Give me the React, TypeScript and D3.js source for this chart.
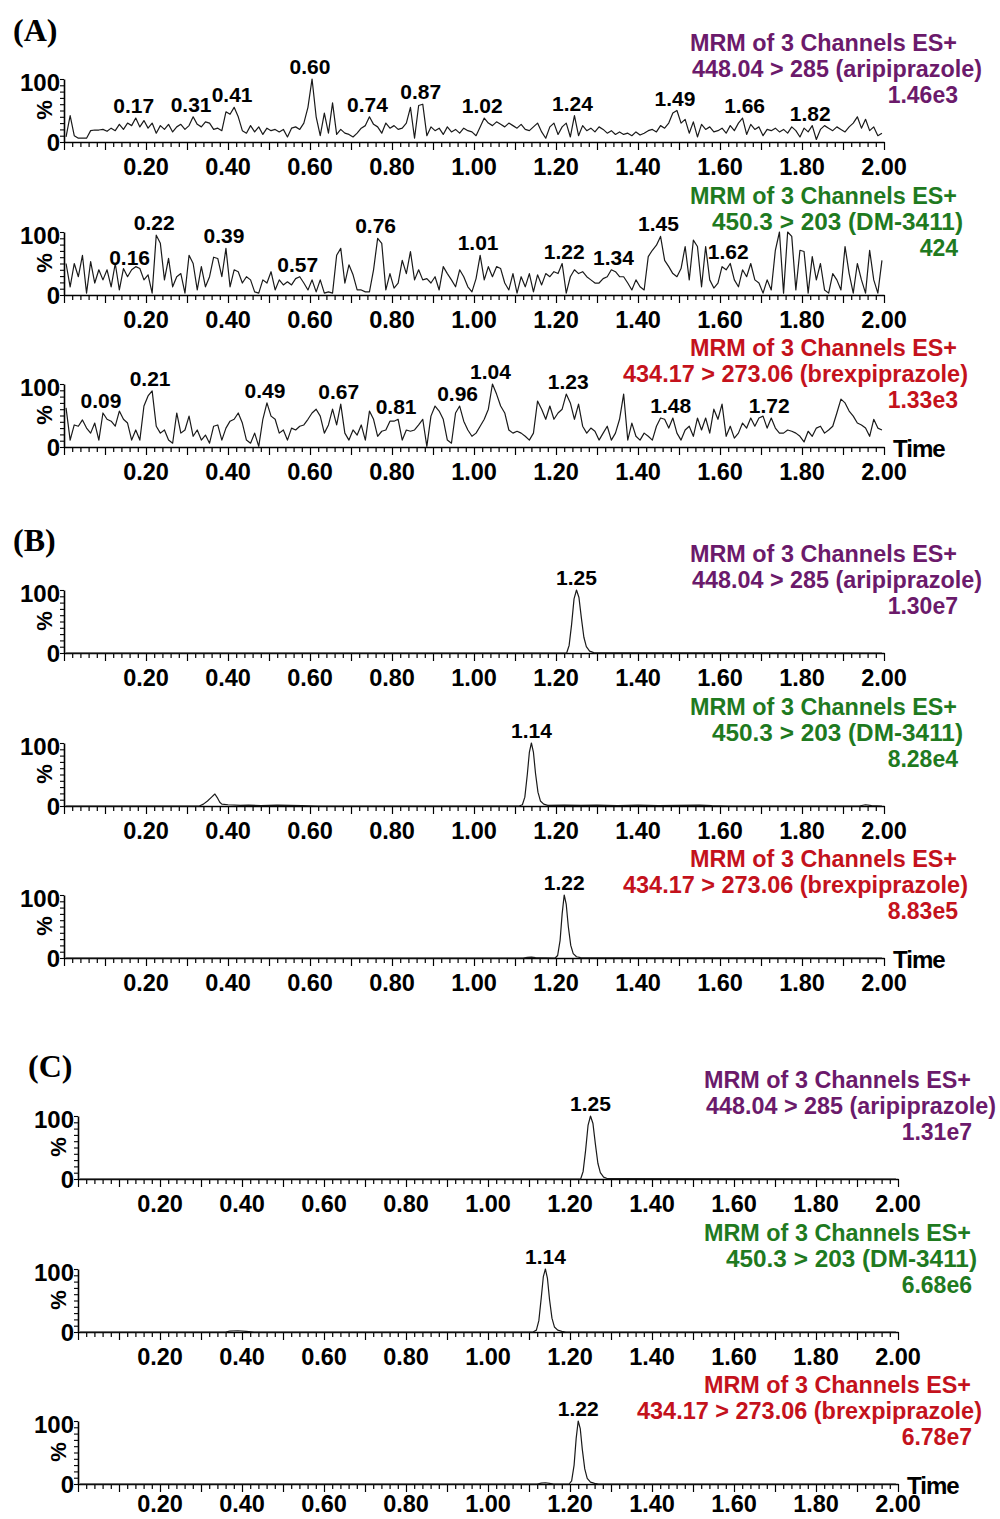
import React, { useEffect, useRef } from "react";
import * as d3 from "d3";

// ---- data ----
const legendTitle = "MRM of 3 Channels ES+";
const transitions = [
  "448.04 > 285 (aripiprazole)",
  "450.3 > 203 (DM-3411)",
  "434.17 > 273.06 (brexpiprazole)",
];
const channelColors = ["#6b1a6b", "#1f7a1f", "#c4121c"];
const panelLetters = ["(A)", "(B)", "(C)"];
const intensities = [
  ["1.46e3", "424", "1.33e3"],
  ["1.30e7", "8.28e4", "8.83e5"],
  ["1.31e7", "6.68e6", "6.78e7"],
];
const xTickLabels = [0.2, 0.4, 0.6, 0.8, 1.0, 1.2, 1.4, 1.6, 1.8, 2.0];

// panel A: noise traces, % values every 0.01 min starting at 0.005
const blankAripiprazole = [
  8, 42, 10, 6, 6, 6, 18, 19, 19, 20,
  17, 22, 18, 28, 20, 30, 26, 38, 24, 34,
  22, 30, 14, 26, 20, 28, 16, 24, 28, 20,
  26, 40, 28, 24, 32, 30, 20, 22, 18, 48,
  44, 55, 40, 18, 14, 26, 16, 24, 12, 22,
  18, 20, 16, 20, 8, 22, 24, 20, 30, 55,
  100, 40, 10, 46, 14, 62, 12, 20, 14, 12,
  8, 14, 22, 26, 40, 28, 24, 14, 30, 22,
  26, 20, 22, 30, 55, 6, 58, 60, 10, 24,
  18, 22, 12, 24, 16, 20, 14, 22, 18, 16,
  10, 24, 38, 30, 26, 32, 28, 24, 30, 26,
  22, 28, 20, 18, 24, 30, 16, 6, 24, 30,
  12, 24, 30, 8, 42, 10, 26, 18, 22, 16,
  24, 20, 14, 18, 12, 16, 12, 14, 10, 16,
  11, 14, 18, 20, 16, 26, 22, 30, 46, 50,
  30, 36, 14, 32, 8, 28, 20, 24, 16, 18,
  22, 14, 26, 18, 30, 38, 12, 28, 20, 24,
  10, 20, 18, 22, 16, 20, 14, 24, 18, 8,
  22, 16, 26, 4, 20, 26, 22, 18, 24, 20,
  16, 24, 30, 40, 22, 36, 18, 24, 10, 14,
];
const blankDM3411 = [
  50, 13, 50, 29, 63, 3, 53, 19, 40, 24,
  40, 13, 50, 8, 42, 29, 40, 45, 42, 24,
  32, 3, 95, 82, 24, 58, 13, 29, 34, 3,
  63, 50, 8, 45, 13, 29, 60, 58, 29, 74,
  13, 40, 37, 19, 29, 24, 5, 3, 24, 19,
  37, 8, 24, 16, 21, 16, 26, 29, 19, 8,
  24, 5, 24, 3, 5, 3, 63, 74, 19, 48,
  32, 8, 8, 5, 5, 40, 90, 82, 8, 34,
  11, 19, 55, 34, 69, 24, 40, 24, 26, 19,
  29, 8, 45, 34, 24, 13, 40, 29, 13, 5,
  26, 63, 24, 45, 29, 45, 42, 19, 8, 34,
  3, 29, 13, 34, 5, 32, 16, 34, 29, 37,
  34, 50, 3, 29, 40, 34, 37, 29, 24, 19,
  19, 26, 29, 40, 37, 29, 29, 19, 8, 24,
  13, 8, 61, 71, 79, 93, 55, 45, 34, 29,
  42, 77, 24, 87, 77, 13, 77, 24, 11, 19,
  45, 40, 50, 24, 13, 40, 29, 50, 24, 19,
  3, 24, 8, 71, 100, 3, 100, 93, 8, 71,
  69, 3, 61, 24, 50, 8, 3, 34, 24, 8,
  77, 34, 3, 50, 24, 3, 71, 24, 3, 55,
];
const blankBrexpiprazole = [
  62, 11, 35, 33, 43, 30, 22, 38, 11, 54,
  44, 41, 33, 57, 44, 38, 11, 27, 11, 65,
  81, 89, 33, 22, 27, 11, 6, 54, 22, 27,
  49, 17, 27, 11, 19, 6, 33, 35, 11, 30,
  41, 44, 54, 38, 11, 6, 22, 1, 44, 70,
  49, 44, 22, 27, 11, 30, 27, 33, 35, 44,
  54, 60, 49, 22, 35, 60, 35, 68, 22, 11,
  27, 19, 35, 11, 57, 44, 17, 25, 27, 41,
  41, 44, 11, 27, 25, 27, 35, 44, 1, 49,
  65, 57, 44, 11, 6, 54, 65, 41, 27, 17,
  22, 33, 44, 60, 100, 84, 65, 54, 27, 22,
  25, 22, 17, 11, 22, 73, 60, 44, 65, 44,
  54, 60, 84, 70, 44, 68, 33, 22, 30, 25,
  11, 22, 33, 11, 22, 44, 84, 11, 38, 17,
  11, 22, 17, 11, 33, 46, 44, 30, 46, 22,
  11, 27, 33, 17, 46, 27, 46, 22, 60, 44,
  68, 17, 33, 14, 22, 38, 30, 46, 33, 46,
  49, 30, 46, 30, 22, 22, 27, 25, 22, 17,
  8, 25, 17, 30, 33, 22, 27, 33, 54, 76,
  70, 57, 49, 38, 35, 30, 17, 44, 30, 27,
];

// panels B and C: [time, %] points
const stdAripiprazole = [
  [0.005, 0], [1.226, 0], [1.232, 12], [1.238, 45], [1.244, 86], [1.25, 100],
  [1.256, 88], [1.262, 55], [1.268, 25], [1.274, 10], [1.282, 3], [1.292, 0.5], [1.995, 0],
];
const stdDM3411 = [
  [0.005, 0], [0.33, 0], [0.34, 3], [0.35, 8], [0.36, 14], [0.368, 19], [0.375, 12],
  [0.38, 6], [0.385, 3], [0.4, 2], [0.43, 1], [0.45, 1.5], [0.48, 0.5], [0.52, 1.5],
  [0.55, 1], [0.58, 0.5], [0.62, 0], [1.11, 0], [1.118, 2], [1.124, 14], [1.13, 50],
  [1.135, 85], [1.14, 100], [1.145, 85], [1.15, 52], [1.156, 22], [1.162, 8], [1.17, 3],
  [1.18, 1], [1.22, 1.5], [1.26, 1], [1.3, 1.5], [1.35, 0.5], [1.4, 1.5], [1.45, 0.5],
  [1.5, 1], [1.55, 1.5], [1.58, 0.5], [1.62, 0], [1.94, 0], [1.955, 2], [1.97, 0.5], [1.995, 0],
];
const stdBrexpiprazole = [
  [0.005, 0], [1.12, 0], [1.13, 1], [1.14, 1.5], [1.15, 0.5], [1.198, 0], [1.204, 4],
  [1.21, 28], [1.215, 70], [1.22, 100], [1.225, 85], [1.23, 50], [1.236, 20],
  [1.242, 7], [1.25, 2], [1.26, 0.5], [1.995, 0],
];
const smpAripiprazole = [
  [0.005, 0], [1.226, 0], [1.232, 12], [1.238, 45], [1.244, 85], [1.25, 100],
  [1.256, 88], [1.262, 55], [1.268, 25], [1.274, 10], [1.282, 3], [1.292, 0.5], [1.995, 0],
];
const smpDM3411 = [
  [0.005, 0], [0.36, 0], [0.37, 1.5], [0.39, 2], [0.41, 1], [0.43, 0], [1.11, 0],
  [1.118, 3], [1.124, 18], [1.13, 55], [1.135, 88], [1.14, 100], [1.145, 85],
  [1.15, 52], [1.156, 22], [1.162, 8], [1.17, 3], [1.18, 1], [1.19, 0], [1.995, 0],
];
const smpBrexpiprazole = [
  [0.005, 0], [1.12, 0], [1.13, 1.5], [1.14, 2], [1.15, 1], [1.16, 0], [1.198, 0],
  [1.204, 5], [1.21, 30], [1.215, 72], [1.22, 100], [1.225, 88], [1.23, 55],
  [1.236, 24], [1.242, 9], [1.25, 3], [1.26, 1], [1.27, 0], [1.995, 0],
];

// peak labels (retention times)
const peakLabels = [
  [
    [0.17, 0.31, 0.41, 0.6, 0.74, 0.87, 1.02, 1.24, 1.49, 1.66, 1.82],
    [0.16, 0.22, 0.39, 0.57, 0.76, 1.01, 1.22, 1.34, 1.45, 1.62],
    [0.09, 0.21, 0.49, 0.67, 0.81, 0.96, 1.04, 1.23, 1.48, 1.72],
  ],
  [[1.25], [1.14], [1.22]],
  [[1.25], [1.14], [1.22]],
];

const toPoints = (vals: number[]) => vals.map((v, i) => [0.005 + i * 0.01, v]);
const traces = [
  [toPoints(blankAripiprazole), toPoints(blankDM3411), toPoints(blankBrexpiprazole)],
  [stdAripiprazole, stdDM3411, stdBrexpiprazole],
  [smpAripiprazole, smpDM3411, smpBrexpiprazole],
];

// ---- layout ----
const panelX = [[64, 884], [64, 884], [78, 898]];
const rowBase = [[142, 295, 447], [653, 806, 958], [1179, 1332, 1484]];
const letterPos = [[13, 41], [13, 551], [28, 1077]];
const line2Start = [692, 712, 623];
const line2Width = [290, 251, 345];
const plotH = 63;

export default function App() {
  const ref = useRef<SVGSVGElement>(null);

  useEffect(() => {
    const svg = d3.select(ref.current);
    svg.selectAll("*").remove();
    const sans = "'Liberation Sans', Arial, sans-serif";

    panelLetters.forEach((letter, p) => {
      svg.append("text")
        .attr("x", letterPos[p][0]).attr("y", letterPos[p][1])
        .attr("font-family", "'Liberation Serif', 'Times New Roman', serif")
        .attr("font-weight", "bold").attr("font-size", 32)
        .text(letter);

      const dx = panelX[p][0] - 64;
      const x = d3.scaleLinear().domain([0, 2]).range(panelX[p]);

      for (let r = 0; r < 3; r++) {
        const base = rowBase[p][r];
        const y = d3.scaleLinear().domain([0, 100]).range([base, base - plotH]);
        const g = svg.append("g");

        // x axis
        const xAxis = d3.axisBottom(x)
          .tickValues(d3.range(0, 101).map((i) => i * 0.02))
          .tickSizeInner(0).tickSizeOuter(0).tickFormat(() => "");
        g.append("g").attr("transform", `translate(0,${base})`).call(xAxis)
          .call((s) => s.select(".domain").attr("stroke-width", 1.6))
          .call((s) => s.selectAll(".tick line")
            .attr("y2", (d: any) => (Math.round(d * 50) % 5 === 0 ? 8 : 5))
            .attr("stroke-width", 1.2));
        g.selectAll(".xlab").data(xTickLabels).join("text")
          .attr("x", (d) => x(d)).attr("y", Math.min(base + 33, 1512))
          .attr("text-anchor", "middle").attr("font-family", sans)
          .attr("font-weight", "bold").attr("font-size", 23.5)
          .text((d) => d.toFixed(2));

        // y axis
        const yAxis = d3.axisLeft(y).tickValues(d3.range(0, 101, 10))
          .tickSizeInner(4).tickSizeOuter(0).tickFormat(() => "");
        g.append("g").attr("transform", `translate(${x(0)},0)`).call(yAxis)
          .call((s) => s.select(".domain").attr("stroke-width", 1.6))
          .call((s) => s.selectAll(".tick line").attr("stroke-width", 1.1));
        g.append("text").attr("x", x(0) - 4).attr("y", y(100) + 11.5)
          .attr("text-anchor", "end").attr("font-family", sans)
          .attr("font-weight", "bold").attr("font-size", 24).text("100");
        g.append("text").attr("x", x(0) - 4).attr("y", y(0) + 8.5)
          .attr("text-anchor", "end").attr("font-family", sans)
          .attr("font-weight", "bold").attr("font-size", 24).text("0");
        g.append("text")
          .attr("transform", `translate(${x(0) - 12},${base - 32}) rotate(-90)`)
          .attr("text-anchor", "middle").attr("font-family", sans)
          .attr("font-weight", "bold").attr("font-size", 22).text("%");

        // trace
        const pts = traces[p][r];
        const line = d3.line<number[]>().x((d) => x(d[0])).y((d) => y(d[1]));
        g.append("path").datum(pts).attr("d", line)
          .attr("fill", "none").attr("stroke", "#1a1a1a").attr("stroke-width", 1.2)
          .attr("stroke-linejoin", "round");

        // peak labels
        g.selectAll(".pk").data(peakLabels[p][r]).join("text")
          .attr("x", (t) => x(t))
          .attr("y", (t) => {
            const near = pts.filter((d) => Math.abs(d[0] - t) <= 0.012);
            const top = d3.max(near, (d) => d[1]) ?? 0;
            return y(top) - 5;
          })
          .attr("text-anchor", "middle").attr("font-family", sans)
          .attr("font-weight", "bold").attr("font-size", 21)
          .text((t) => t.toFixed(2));

        // legend
        const col = channelColors[r];
        g.append("text").attr("x", 690 + dx).attr("y", base - 91)
          .attr("fill", col).attr("font-family", sans).attr("font-weight", "bold")
          .attr("font-size", 23).attr("textLength", 267)
          .attr("lengthAdjust", "spacingAndGlyphs").text(legendTitle);
        g.append("text").attr("x", line2Start[r] + dx).attr("y", base - 65)
          .attr("fill", col).attr("font-family", sans).attr("font-weight", "bold")
          .attr("font-size", 23).attr("textLength", line2Width[r])
          .attr("lengthAdjust", "spacingAndGlyphs").text(transitions[r]);
        g.append("text").attr("x", 958 + dx).attr("y", base - 39)
          .attr("text-anchor", "end")
          .attr("fill", col).attr("font-family", sans).attr("font-weight", "bold")
          .attr("font-size", 23).text(intensities[p][r]);

        if (r === 2) {
          g.append("text").attr("x", 893 + dx).attr("y", base + 10)
            .attr("font-family", sans).attr("font-weight", "bold")
            .attr("font-size", 24).attr("letter-spacing", -1).text("Time");
        }
      }
    });
  }, []);

  return (
    <svg ref={ref} width={1000} height={1519}
      style={{ position: "absolute", left: 0, top: 0, background: "#fff" }} />
  );
}
